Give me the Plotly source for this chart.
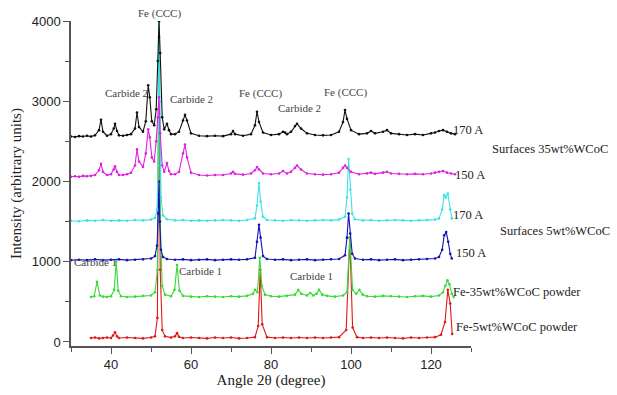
import plotly.graph_objects as go

# ---------------- data ----------------
black_x = [30,31,32,33,34,35,36,37,37.5,38,39,40,40.7,41,41.5,42,43,44,45,46,46.5,47,48,48.7,49.3,49.7,50.2,50.8,51.3,51.7,52,52.3,52.8,53.3,54,54.5,55,56,57,58,58.5,59,60,62,64,66,68,70,70.5,71,73,75,76,76.5,77,78,80,82,83,83.5,84,85,86,86.5,87.5,89,91,93,95,97,98,98.5,99,100,102,104,105,106,108,109,110,112,114,116,118,120,121,122,123,124,125,126]
black_y = [2560,2555,2565,2560,2570,2560,2575,2640,2770,2620,2570,2590,2660,2720,2630,2575,2570,2580,2590,2660,2860,2680,2620,2750,3200,3050,2750,2700,2900,3500,4000,3600,2800,2650,2720,2640,2590,2590,2620,2760,2830,2760,2600,2570,2565,2570,2565,2590,2630,2590,2570,2590,2700,2870,2740,2610,2580,2590,2620,2610,2590,2620,2690,2720,2660,2600,2580,2575,2580,2620,2740,2890,2780,2640,2590,2600,2630,2600,2620,2640,2600,2590,2580,2590,2580,2600,2610,2630,2640,2620,2600,2590]

magenta_x = [30,31,32,33,34,35,36,37,37.5,38,39,40,40.7,41,41.5,42,43,44,45,46,46.5,47,48,48.7,49.3,49.7,50.2,50.8,51.3,51.7,52,52.3,52.8,53.3,54,54.5,55,56,57,58,58.5,59,60,62,64,66,68,70,70.5,71,73,75,76,76.5,77,78,80,82,83,84,85,86,86.5,87.5,89,91,93,95,97,98,98.5,99,100,102,104,105,106,108,109,110,112,114,116,118,120,121,122,123,124,125,126]
magenta_y = [2060,2065,2060,2070,2065,2070,2080,2140,2220,2120,2080,2090,2150,2190,2120,2080,2080,2090,2110,2200,2400,2250,2180,2350,2650,2550,2300,2250,2500,2800,3050,2600,2200,2120,2230,2130,2090,2090,2120,2350,2460,2300,2110,2080,2075,2080,2080,2100,2120,2095,2085,2100,2140,2180,2150,2100,2090,2100,2130,2100,2120,2170,2200,2150,2100,2090,2085,2090,2110,2170,2200,2170,2120,2090,2100,2110,2095,2110,2120,2100,2095,2090,2095,2090,2100,2110,2120,2130,2110,2100,2090]

cyan_x = [30,32,34,36,38,40,42,44,46,48,50,51,51.5,51.8,52,52.2,52.5,53,54,56,58,60,62,64,66,68,70,72,74,76,76.5,77,77.4,78,79,81,83,85,87,89,91,93,95,97,98.5,99,99.4,99.8,100.3,101,103,105,107,109,111,113,115,117,119,121,122,122.8,123.3,123.7,124.2,124.8,125.2]
cyan_y = [1510,1505,1515,1510,1520,1510,1515,1510,1520,1515,1525,1545,1650,2200,4000,3000,1800,1580,1530,1515,1520,1510,1515,1510,1515,1520,1515,1510,1520,1540,1700,1980,1750,1560,1520,1515,1510,1520,1515,1510,1515,1520,1515,1525,1560,1800,2280,1900,1600,1530,1515,1520,1510,1515,1520,1515,1510,1515,1520,1525,1540,1650,1830,1800,1850,1650,1540]

blue_x = [30,32,34,36,38,40,42,44,46,48,50,51,51.5,51.8,52,52.2,52.5,53,54,56,58,60,62,64,66,68,70,72,74,76,76.5,77,77.4,78,79,81,83,85,87,89,91,93,95,97,98.5,99,99.4,99.8,100.3,101,103,105,107,109,111,113,115,117,119,121,122,122.8,123.3,123.8,124.3,124.8,125.2]
blue_y = [1020,1025,1020,1030,1020,1025,1030,1020,1025,1030,1040,1070,1200,1600,2000,1500,1150,1060,1035,1025,1030,1020,1025,1030,1020,1025,1030,1025,1030,1050,1250,1460,1300,1070,1035,1025,1030,1020,1025,1030,1020,1025,1030,1035,1080,1300,1600,1350,1100,1040,1025,1030,1020,1025,1030,1020,1025,1030,1035,1040,1060,1150,1330,1370,1250,1100,1040]

green_x = [35,35.8,36.5,37.2,38,39,40,40.8,41.3,41.8,42.5,44,46,48,50,51,51.6,52,52.3,52.8,53.5,55,55.9,56.5,57.1,58,60,62,64,66,68,70,72,74,75.5,76,76.6,77.2,77.7,78.5,80,82,84,86,86.8,87.6,89,89.8,90.6,91.4,92,92.8,94,96,98,99,99.7,100.4,101.3,102.1,102.9,104,106,108,110,112,114,116,118,120,122,123,123.6,124.1,124.6,125.2,125.7]
green_y = [560,570,750,580,565,560,570,650,1000,640,570,560,565,575,580,620,900,4000,1500,700,590,570,650,960,640,575,565,560,570,565,560,570,565,575,600,650,620,1050,700,590,570,565,575,590,650,600,580,610,580,600,650,590,575,565,580,620,1300,650,600,650,590,570,565,575,570,565,560,570,575,565,580,620,700,770,720,600,560]

red_x = [35,36,37,38,39,40,40.5,41,41.5,42,44,46,48,50,51,51.6,52,52.3,52.8,53.5,55,56,56.5,57,58,60,62,64,66,68,70,72,74,76,76.8,77.3,77.8,79,81,83,85,87,89,91,93,95,97,98.8,99.7,100.4,101.5,103,105,107,109,111,113,115,117,119,121,122.5,123.5,124.2,124.8,125.3]
red_y = [50,55,45,50,55,50,80,120,70,50,55,50,45,55,70,300,3800,900,150,70,55,70,110,65,50,55,50,45,55,50,55,45,50,60,200,900,220,60,50,55,50,55,50,55,50,55,60,150,1300,180,60,50,55,50,55,50,45,55,50,55,60,90,250,650,480,100]

series_names = ["Fe-5wt%WCoC powder", "Fe-35wt%WCoC powder", "150 A (5wt%)",
                "170 A (5wt%)", "150 A (35wt%)", "170 A (35wt%)"]
series_colors = ["#e01818", "#33dd33", "#1414b4", "#3ee0ec", "#e020e0", "#111111"]

x_ticks = [40, 60, 80, 100, 120]
y_ticks = [0, 1000, 2000, 3000, 4000]

peak_labels = ["Fe (CCC)", "Carbide 2", "Carbide 2", "Fe (CCC)", "Carbide 2", "Fe (CCC)",
               "Carbide 1", "Carbide 1", "Carbide 1"]
peak_label_x = [52, 43.75, 60, 77.25, 87, 98.5, 36, 62.25, 90]
peak_label_y = [4000, 3000, 2930, 2990, 2820, 3000, 900, 790, 720]

side_labels = ["170 A", "150 A", "Surfaces 35wt%WCoC", "170 A", "Surfaces 5wt%WCoC",
               "150 A", "Fe-35wt%WCoC powder", "Fe-5wt%WCoC powder"]
side_label_x = [0.95, 0.955, 1.0475, 0.95, 1.0675, 0.9575, 0.95, 0.9575]
side_label_y = [0.665, 0.526, 0.606, 0.403, 0.354, 0.286, 0.166, 0.058]

# ---------------- figure ----------------
fig = go.Figure()
all_x = [red_x, green_x, blue_x, cyan_x, magenta_x, black_x]
all_y = [red_y, green_y, blue_y, cyan_y, magenta_y, black_y]
for xs, ys, name, col in zip(all_x, all_y, series_names, series_colors):
    fig.add_trace(go.Scatter(x=xs, y=ys, name=name, mode="lines+markers",
                             line=dict(color=col, width=1.1),
                             marker=dict(color=col, size=2.6),
                             cliponaxis=True))

for i, (t, x, y) in enumerate(zip(peak_labels, peak_label_x, peak_label_y)):
    fig.add_annotation(x=x, y=y, xref="x", yref="y", text=t, showarrow=False,
                       yanchor="bottom", yshift=-1 if i == 0 else 0,
                       font=dict(family="Liberation Serif", size=11, color="#444"))

for t, x, y in zip(side_labels, side_label_x, side_label_y):
    fig.add_annotation(x=x, y=y, xref="paper", yref="paper", text=t, showarrow=False,
                       xanchor="left", yanchor="middle",
                       font=dict(family="Liberation Serif", size=12.5, color="#222"))

axis_common = dict(showline=True, linecolor="#555", linewidth=1.5, showgrid=False,
                   zeroline=False, ticks="outside", ticklen=6, tickwidth=1.2,
                   tickcolor="#555", automargin=False,
                   tickfont=dict(family="Liberation Sans", size=13, color="#222"))

fig.update_xaxes(range=[30, 130], tickvals=x_ticks,
                 minor=dict(dtick=10, tick0=30, ticks="outside", ticklen=4, tickcolor="#555"),
                 title=dict(text="Angle 2θ (degree)", standoff=0,
                            font=dict(family="Liberation Serif", size=15, color="#222")),
                 **axis_common)
fig.update_yaxes(range=[-50, 4000], tickvals=y_ticks,
                 minor=dict(dtick=500, tick0=0, ticks="outside", ticklen=4, tickcolor="#555"),
                 title=dict(text="Intensity (arbitrary units)", standoff=6,
                            font=dict(family="Liberation Serif", size=15, color="#222")),
                 **axis_common)

fig.update_layout(width=617, height=395, showlegend=False,
                  plot_bgcolor="white", paper_bgcolor="white",
                  margin=dict(l=71, r=146, t=21, b=49))

fig.write_html("out.html", config={"displayModeBar": False},
               post_script="document.body.style.margin='0';document.body.style.overflow='hidden';")
